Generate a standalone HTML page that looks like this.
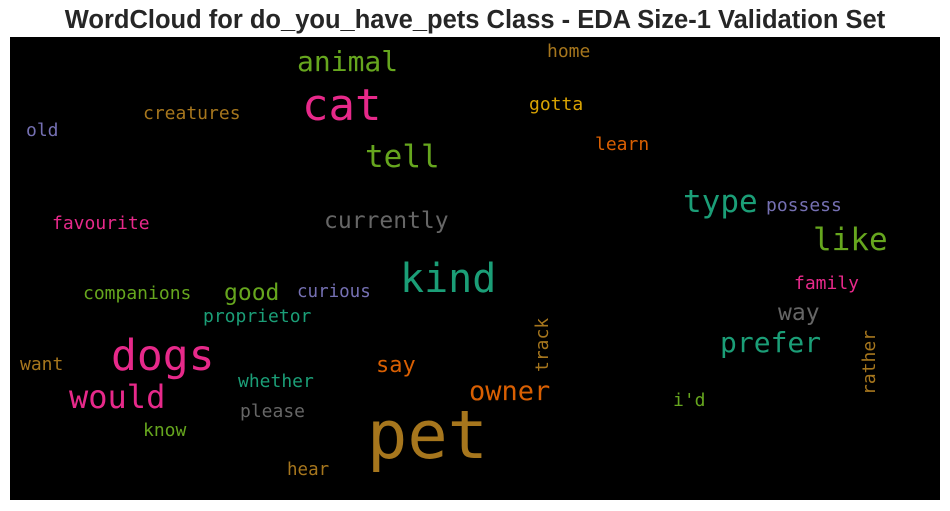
<!DOCTYPE html>
<html><head><meta charset="utf-8"><style>
html,body{margin:0;padding:0;background:#fff;width:950px;height:511px;overflow:hidden}
svg text.w{font-family:"DejaVu Sans Mono","Liberation Mono",monospace}
</style></head><body>
<svg id="chart" width="950" height="511">
<text x="475" y="28" text-anchor="middle" font-family="Liberation Sans, sans-serif" font-weight="bold" font-size="25.5" fill="#262626">WordCloud for do_you_have_pets Class - EDA Size-1 Validation Set</text>
<rect x="10" y="37" width="930" height="463" fill="#000"/>
<g id="words"></g>
</svg>
<script>
const words=["pet","cat","dogs","kind","tell","type","like","would","animal","prefer","owner","currently","good","way","say","creatures","favourite","companions","proprietor","curious","possess","family","whether","please","know","hear","want","i'd","gotta","home","learn","old","track","rather"];
const sizes=[67,44,43,40,31,31,31,32,28,28,27,23,23,23,22,18,18,18,18,17.5,18,18,18,18,18,17.5,18,18,18,18,18,18,18,18];
const colors=["#a6761d","#e7298a","#e7298a","#1b9e77","#66a61e","#1b9e77","#66a61e","#e7298a","#66a61e","#1b9e77","#d95f02","#666666","#66a61e","#666666","#d95f02","#a6761d","#e7298a","#66a61e","#1b9e77","#7570b3","#7570b3","#e7298a","#1b9e77","#666666","#66a61e","#a6761d","#a6761d","#66a61e","#d9a302","#a6761d","#d95f02","#7570b3","#a6761d","#a6761d"];
const xs=[367,302,111,400,365,683,813,69,297,720,469,324,224,778,376,143,52,83,203,297,766,794,238,240,143,287,20,673,529,547,595,26,548,875];
const ys=[458,120,370,292,167,212,250,408,71,352,400,228,300,320,372,119,229,299,322,297,211,289,387,417,436,475,370,406,110,57,150,136,372,395];
const vertical=[0,0,0,0,0,0,0,0,0,0,0,0,0,0,0,0,0,0,0,0,0,0,0,0,0,0,0,0,0,0,0,0,1,1];
const g=document.getElementById('words');
words.forEach((w,i)=>{
  const t=document.createElementNS('http://www.w3.org/2000/svg','text');
  t.setAttribute('class','w');
  t.setAttribute('font-size',sizes[i]);
  t.setAttribute('fill',colors[i]);
  if(vertical[i]){t.setAttribute('transform','translate('+xs[i]+','+ys[i]+') rotate(-90)');t.setAttribute('x',0);t.setAttribute('y',0);}
  else{t.setAttribute('x',xs[i]);t.setAttribute('y',ys[i]);}
  t.textContent=w;
  
  
  g.appendChild(t);
});
</script>
</body></html>
